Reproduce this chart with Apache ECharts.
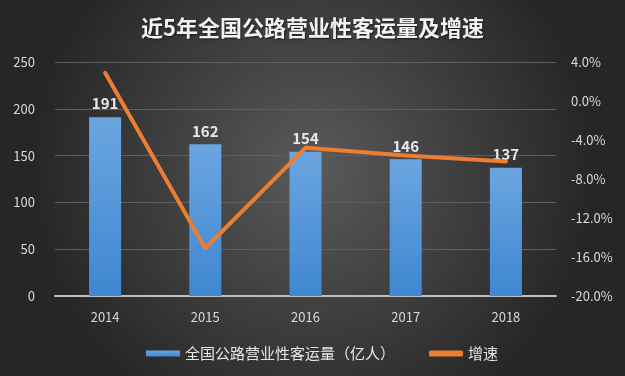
<!DOCTYPE html>
<html>
<head>
<meta charset="utf-8">
<script src="https://cdn.jsdelivr.net/npm/echarts@6/dist/echarts.min.js"></script>
<style>
  html, body { margin: 0; padding: 0; }
  #chart { width: 625px; height: 376px; }
</style>
</head>
<body>
<div id="chart"></div>
<script>
const years = ['2014', '2015', '2016', '2017', '2018'];
const volume = [191, 162, 154, 146, 137];
const growth = [2.9, -15.1, -4.8, -5.6, -6.2];

const chart = echarts.init(document.getElementById('chart'));
const font = '"Noto Sans CJK SC", "Noto Sans", sans-serif';

const option = {
  backgroundColor: {
    type: 'radial', x: 0.5, y: 0.45, r: 0.75,
    colorStops: [
      { offset: 0, color: '#5a5a5a' },
      { offset: 1, color: '#262626' }
    ]
  },
  textStyle: { fontFamily: font },
  title: {
    text: '近5年全国公路营业性客运量及增速',
    left: 'center',
    top: 12,
    textStyle: {
      color: '#f2f2f2', fontSize: 22, fontWeight: 'bold', fontFamily: font,
      textShadowColor: 'rgba(0,0,0,0.6)', textShadowBlur: 2, textShadowOffsetX: 1, textShadowOffsetY: 1
    }
  },
  legend: {
    left: 141,
    bottom: 10,
    itemWidth: 34,
    itemHeight: 6,
    itemGap: 34,
    textStyle: { color: '#e6e6e6', fontSize: 15 },
    data: [
      { name: '全国公路营业性客运量（亿人）', icon: 'rect' },
      { name: '增速', icon: 'roundRect' }
    ]
  },
  grid: { left: 55, right: 69, top: 62, bottom: 80 },
  xAxis: {
    type: 'category',
    data: years,
    axisLine: { lineStyle: { color: '#bfbfbf', width: 2 } },
    axisTick: { show: false },
    axisLabel: { color: '#d9d9d9', fontSize: 13, margin: 15 }
  },
  yAxis: [
    {
      type: 'value', min: 0, max: 250, interval: 50,
      axisLine: { show: false },
      axisTick: { show: false },
      axisLabel: { color: '#d9d9d9', fontSize: 13, margin: 20 },
      splitLine: { lineStyle: { color: '#5f5f5f', width: 1 } }
    },
    {
      type: 'value', min: -20, max: 4, interval: 4,
      axisLine: { show: false },
      axisTick: { show: false },
      axisLabel: { color: '#d9d9d9', fontSize: 13, margin: 15, formatter: v => v.toFixed(1) + '%' },
      splitLine: { show: false }
    }
  ],
  series: [
    {
      name: '全国公路营业性客运量（亿人）',
      type: 'bar',
      data: volume,
      barWidth: '32%',
      itemStyle: {
        color: {
          type: 'linear', x: 0, y: 0, x2: 0, y2: 1,
          colorStops: [
            { offset: 0, color: '#6ba5e0' },
            { offset: 1, color: '#3f87d2' }
          ]
        }
      },
      label: {
        show: true, position: 'top', distance: 6,
        color: '#e8e8e8', fontSize: 15, fontWeight: 'bold'
      }
    },
    {
      name: '增速',
      type: 'line',
      yAxisIndex: 1,
      data: growth,
      symbol: 'none',
      lineStyle: { color: '#ed7d31', width: 4, cap: 'round', join: 'round' },
      itemStyle: { color: '#ed7d31' }
    }
  ]
};

chart.setOption(option);
</script>
</body>
</html>
